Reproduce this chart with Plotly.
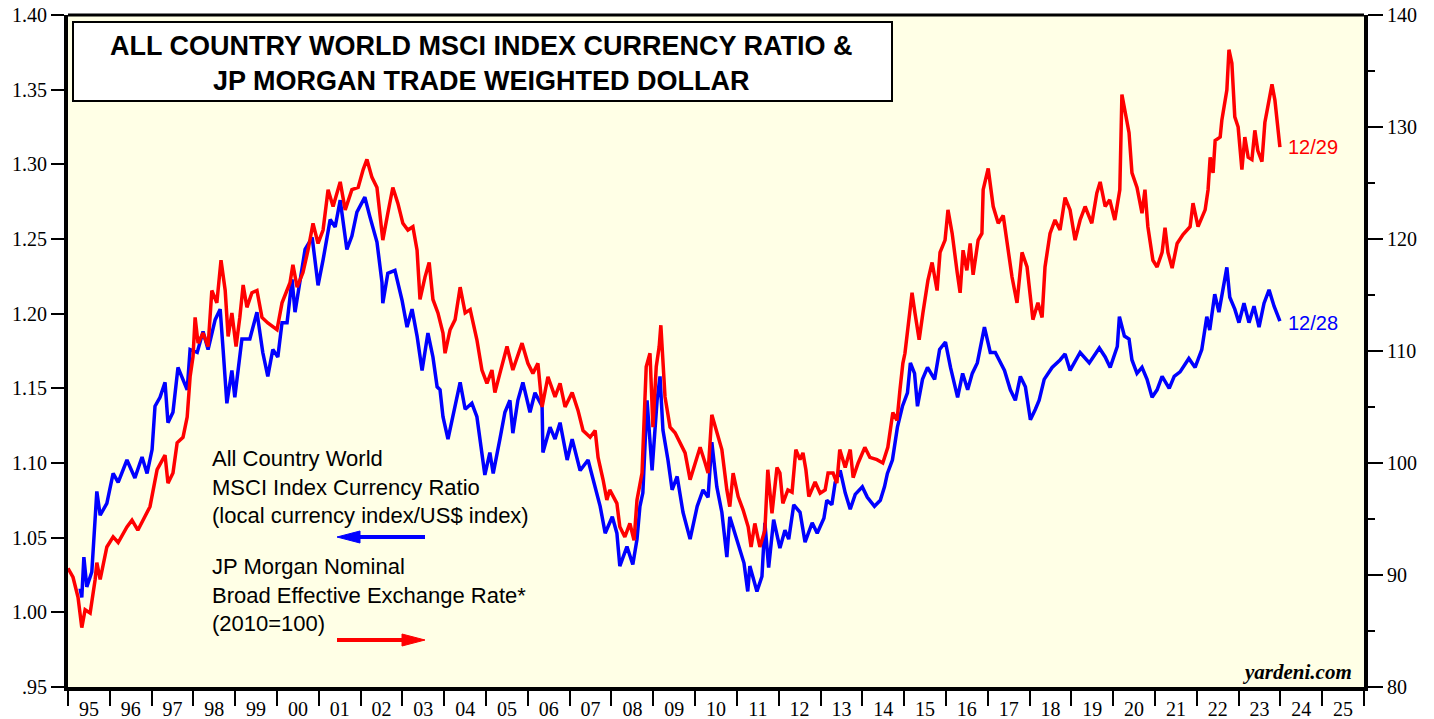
import plotly.graph_objects as go
from datetime import datetime

# ---- Data (decimal year, value) ----
# All Country World MSCI Index Currency Ratio (left axis)
ACWI_RATIO = [
    (1995.29, 1.016), (1995.33, 1.010), (1995.38, 1.037), (1995.45, 1.017), (1995.57, 1.027),
    (1995.65, 1.067), (1995.69, 1.081), (1995.77, 1.065), (1995.93, 1.073), (1996.08, 1.093),
    (1996.20, 1.087), (1996.41, 1.102), (1996.60, 1.090), (1996.77, 1.104), (1996.89, 1.093),
    (1997.01, 1.109), (1997.08, 1.138), (1997.20, 1.144), (1997.32, 1.154), (1997.39, 1.127),
    (1997.51, 1.134), (1997.63, 1.164), (1997.85, 1.149), (1997.92, 1.176), (1998.09, 1.174),
    (1998.23, 1.188), (1998.35, 1.176), (1998.52, 1.196), (1998.64, 1.203), (1998.71, 1.176),
    (1998.80, 1.140), (1998.92, 1.162), (1998.99, 1.144), (1999.16, 1.183), (1999.35, 1.183),
    (1999.52, 1.201), (1999.66, 1.174), (1999.78, 1.158), (1999.90, 1.176), (2000.02, 1.171),
    (2000.12, 1.194), (2000.24, 1.194), (2000.36, 1.223), (2000.43, 1.201), (2000.55, 1.221),
    (2000.67, 1.243), (2000.84, 1.251), (2000.98, 1.219), (2001.10, 1.236), (2001.27, 1.263),
    (2001.39, 1.258), (2001.51, 1.276), (2001.67, 1.243), (2001.79, 1.252), (2001.91, 1.268),
    (2002.10, 1.278), (2002.22, 1.265), (2002.39, 1.248), (2002.51, 1.221), (2002.53, 1.207),
    (2002.65, 1.227), (2002.82, 1.229), (2002.99, 1.209), (2003.11, 1.191), (2003.23, 1.203),
    (2003.35, 1.185), (2003.47, 1.162), (2003.61, 1.187), (2003.73, 1.171), (2003.83, 1.151),
    (2003.90, 1.149), (2003.97, 1.131), (2004.09, 1.116), (2004.21, 1.131), (2004.38, 1.154),
    (2004.50, 1.136), (2004.66, 1.140), (2004.78, 1.131), (2004.90, 1.104), (2004.97, 1.092),
    (2005.09, 1.107), (2005.17, 1.093), (2005.33, 1.116), (2005.45, 1.134), (2005.57, 1.142),
    (2005.64, 1.120), (2005.76, 1.142), (2005.88, 1.154), (2006.05, 1.134), (2006.17, 1.147),
    (2006.34, 1.138), (2006.36, 1.107), (2006.53, 1.124), (2006.65, 1.116), (2006.77, 1.127),
    (2006.94, 1.102), (2007.06, 1.116), (2007.25, 1.095), (2007.44, 1.102), (2007.61, 1.084),
    (2007.73, 1.071), (2007.85, 1.053), (2008.02, 1.064), (2008.13, 1.053), (2008.20, 1.031),
    (2008.37, 1.044), (2008.51, 1.032), (2008.61, 1.049), (2008.68, 1.071), (2008.75, 1.080),
    (2008.85, 1.142), (2008.97, 1.095), (2009.09, 1.142), (2009.16, 1.158), (2009.23, 1.122),
    (2009.35, 1.102), (2009.45, 1.082), (2009.57, 1.091), (2009.71, 1.067), (2009.88, 1.049),
    (2010.05, 1.071), (2010.19, 1.082), (2010.31, 1.077), (2010.40, 1.114), (2010.52, 1.084),
    (2010.64, 1.067), (2010.76, 1.037), (2010.83, 1.064), (2011.00, 1.049), (2011.17, 1.033),
    (2011.26, 1.014), (2011.31, 1.031), (2011.48, 1.014), (2011.60, 1.024), (2011.67, 1.060),
    (2011.76, 1.030), (2011.88, 1.062), (2012.03, 1.043), (2012.15, 1.055), (2012.24, 1.049),
    (2012.36, 1.072), (2012.51, 1.067), (2012.63, 1.047), (2012.80, 1.060), (2012.92, 1.053),
    (2013.08, 1.063), (2013.15, 1.075), (2013.27, 1.072), (2013.35, 1.087), (2013.47, 1.095),
    (2013.59, 1.080), (2013.71, 1.069), (2013.83, 1.079), (2014.00, 1.084), (2014.12, 1.077),
    (2014.29, 1.071), (2014.43, 1.075), (2014.53, 1.084), (2014.60, 1.093), (2014.72, 1.102),
    (2014.84, 1.124), (2014.96, 1.138), (2015.08, 1.147), (2015.15, 1.167), (2015.25, 1.160),
    (2015.32, 1.138), (2015.44, 1.156), (2015.56, 1.164), (2015.73, 1.156), (2015.85, 1.176),
    (2015.99, 1.181), (2016.11, 1.164), (2016.28, 1.144), (2016.40, 1.160), (2016.52, 1.149),
    (2016.63, 1.160), (2016.75, 1.167), (2016.92, 1.191), (2017.06, 1.174), (2017.18, 1.174),
    (2017.40, 1.162), (2017.54, 1.149), (2017.66, 1.142), (2017.78, 1.158), (2017.90, 1.151),
    (2018.02, 1.129), (2018.14, 1.136), (2018.23, 1.142), (2018.35, 1.156), (2018.54, 1.164),
    (2018.73, 1.169), (2018.85, 1.173), (2018.97, 1.162), (2019.21, 1.174), (2019.43, 1.167),
    (2019.67, 1.177), (2019.81, 1.171), (2019.93, 1.164), (2020.10, 1.178), (2020.15, 1.198),
    (2020.27, 1.185), (2020.38, 1.183), (2020.45, 1.169), (2020.57, 1.160), (2020.69, 1.164),
    (2020.81, 1.156), (2020.93, 1.144), (2021.05, 1.149), (2021.17, 1.158), (2021.34, 1.150),
    (2021.46, 1.158), (2021.60, 1.161), (2021.81, 1.170), (2021.96, 1.164), (2022.12, 1.176),
    (2022.24, 1.198), (2022.31, 1.189), (2022.43, 1.213), (2022.53, 1.201), (2022.65, 1.221),
    (2022.72, 1.231), (2022.79, 1.211), (2022.91, 1.203), (2023.01, 1.194), (2023.13, 1.207),
    (2023.25, 1.194), (2023.37, 1.205), (2023.49, 1.191), (2023.61, 1.207), (2023.73, 1.216),
    (2023.85, 1.205), (2023.99, 1.195),
]

# JP Morgan Nominal Broad Effective Exchange Rate, 2010=100 (right axis)
JPM_DOLLAR = [
    (1995.00, 90.6), (1995.12, 89.8), (1995.24, 88.0), (1995.33, 85.3), (1995.41, 86.9),
    (1995.53, 86.6), (1995.65, 89.6), (1995.69, 91.1), (1995.77, 89.6), (1995.93, 92.5),
    (1996.08, 93.4), (1996.20, 92.9), (1996.41, 94.3), (1996.53, 94.9), (1996.67, 94.0),
    (1996.84, 95.2), (1996.96, 96.1), (1997.13, 99.4), (1997.32, 100.7), (1997.39, 98.2),
    (1997.51, 99.1), (1997.61, 101.8), (1997.75, 102.3), (1997.85, 104.1), (1997.92, 107.7),
    (1997.99, 109.5), (1998.04, 113.0), (1998.11, 110.7), (1998.23, 111.6), (1998.35, 110.4),
    (1998.44, 115.4), (1998.56, 114.3), (1998.66, 118.1), (1998.76, 115.4), (1998.83, 111.3),
    (1998.92, 113.4), (1999.02, 110.4), (1999.11, 113.0), (1999.19, 115.9), (1999.28, 113.9),
    (1999.40, 115.2), (1999.52, 115.4), (1999.64, 113.0), (1999.78, 112.5), (2000.00, 111.9),
    (2000.12, 114.3), (2000.31, 116.1), (2000.38, 117.7), (2000.48, 115.7), (2000.62, 117.0),
    (2000.74, 119.0), (2000.86, 121.4), (2000.98, 119.6), (2001.10, 120.8), (2001.22, 124.4),
    (2001.34, 122.9), (2001.51, 125.1), (2001.63, 122.6), (2001.79, 124.4), (2001.94, 124.6),
    (2002.06, 126.2), (2002.15, 127.1), (2002.27, 125.5), (2002.39, 124.6), (2002.46, 122.3),
    (2002.53, 119.9), (2002.65, 122.3), (2002.77, 124.6), (2002.89, 123.2), (2003.01, 121.4),
    (2003.13, 120.8), (2003.25, 121.1), (2003.35, 119.0), (2003.42, 114.6), (2003.54, 116.6),
    (2003.64, 117.9), (2003.73, 114.6), (2003.85, 113.4), (2003.97, 111.6), (2004.02, 109.8),
    (2004.14, 111.9), (2004.26, 112.8), (2004.38, 115.7), (2004.50, 113.4), (2004.62, 113.7),
    (2004.78, 111.0), (2004.90, 108.3), (2005.02, 107.1), (2005.14, 108.3), (2005.21, 106.3),
    (2005.33, 108.0), (2005.50, 110.4), (2005.64, 108.3), (2005.86, 110.7), (2006.00, 108.9),
    (2006.12, 108.0), (2006.24, 108.9), (2006.34, 105.0), (2006.48, 107.7), (2006.65, 105.9),
    (2006.77, 107.1), (2006.89, 105.0), (2007.06, 106.3), (2007.20, 104.7), (2007.32, 102.9),
    (2007.49, 102.3), (2007.61, 102.9), (2007.68, 100.5), (2007.80, 98.5), (2007.89, 96.7),
    (2007.96, 97.6), (2008.13, 96.4), (2008.20, 94.3), (2008.32, 93.4), (2008.44, 94.6),
    (2008.54, 93.1), (2008.61, 96.7), (2008.73, 99.1), (2008.83, 108.6), (2008.92, 109.8),
    (2008.99, 103.2), (2009.07, 108.6), (2009.14, 110.4), (2009.18, 112.3), (2009.28, 105.9),
    (2009.40, 103.2), (2009.52, 102.7), (2009.64, 101.8), (2009.76, 100.9), (2009.88, 98.5),
    (2010.00, 100.0), (2010.12, 101.4), (2010.24, 100.0), (2010.31, 99.1), (2010.40, 104.3),
    (2010.52, 102.7), (2010.64, 101.2), (2010.76, 97.6), (2010.83, 96.1), (2010.91, 99.1),
    (2011.03, 97.0), (2011.15, 95.8), (2011.27, 94.3), (2011.34, 92.5), (2011.43, 94.6),
    (2011.55, 92.5), (2011.67, 94.0), (2011.74, 99.4), (2011.84, 95.5), (2011.96, 99.6),
    (2012.03, 99.1), (2012.10, 96.4), (2012.22, 97.6), (2012.32, 97.4), (2012.41, 101.2),
    (2012.51, 100.3), (2012.58, 100.9), (2012.65, 99.4), (2012.72, 97.0), (2012.87, 98.3),
    (2012.99, 97.3), (2013.11, 97.6), (2013.18, 99.1), (2013.30, 99.1), (2013.39, 98.2),
    (2013.46, 101.2), (2013.59, 99.6), (2013.71, 101.2), (2013.78, 98.7), (2013.90, 100.0),
    (2014.06, 101.4), (2014.18, 100.5), (2014.35, 100.3), (2014.49, 100.0), (2014.61, 101.4),
    (2014.73, 104.5), (2014.83, 103.8), (2014.90, 106.5), (2014.97, 108.9), (2015.02, 109.8),
    (2015.09, 112.1), (2015.19, 115.2), (2015.26, 113.4), (2015.36, 111.0), (2015.45, 113.4),
    (2015.57, 116.3), (2015.67, 117.9), (2015.79, 115.4), (2015.86, 118.8), (2015.98, 119.9),
    (2016.05, 122.6), (2016.15, 120.5), (2016.27, 117.0), (2016.34, 115.2), (2016.41, 119.0),
    (2016.50, 117.2), (2016.58, 119.6), (2016.65, 116.8), (2016.77, 119.9), (2016.86, 120.5),
    (2016.89, 124.4), (2017.01, 126.3), (2017.13, 122.9), (2017.25, 121.4), (2017.37, 122.1),
    (2017.46, 119.6), (2017.58, 116.6), (2017.70, 114.3), (2017.82, 118.8), (2017.94, 117.5),
    (2018.01, 115.4), (2018.08, 112.8), (2018.20, 114.3), (2018.30, 113.0), (2018.37, 117.5),
    (2018.49, 120.5), (2018.61, 121.7), (2018.73, 120.8), (2018.85, 123.7), (2018.97, 122.6),
    (2019.09, 119.9), (2019.21, 121.7), (2019.33, 122.9), (2019.49, 121.4), (2019.61, 124.1),
    (2019.69, 125.1), (2019.81, 122.9), (2019.92, 123.5), (2020.04, 121.7), (2020.16, 124.4),
    (2020.21, 132.9), (2020.31, 130.9), (2020.38, 129.5), (2020.45, 125.9), (2020.57, 124.6),
    (2020.69, 122.3), (2020.76, 124.4), (2020.83, 121.1), (2020.95, 118.1), (2021.05, 117.5),
    (2021.17, 118.8), (2021.24, 121.0), (2021.31, 118.8), (2021.41, 117.4), (2021.53, 119.6),
    (2021.67, 120.4), (2021.84, 121.1), (2021.91, 123.2), (2022.03, 121.1), (2022.20, 122.6),
    (2022.27, 124.4), (2022.32, 127.3), (2022.39, 125.9), (2022.44, 128.8), (2022.56, 129.1),
    (2022.60, 130.6), (2022.65, 131.8), (2022.72, 133.3), (2022.77, 136.9), (2022.84, 135.7),
    (2022.91, 130.9), (2022.99, 130.0), (2023.08, 126.2), (2023.15, 129.1), (2023.23, 127.3),
    (2023.32, 127.1), (2023.39, 129.7), (2023.46, 127.9), (2023.56, 126.9), (2023.63, 130.4),
    (2023.70, 131.8), (2023.80, 133.8), (2023.87, 132.4), (2023.93, 130.6), (2023.99, 128.2),
]

LEFT_TICKS = [0.95, 1.00, 1.05, 1.10, 1.15, 1.20, 1.25, 1.30, 1.35, 1.40]
LEFT_LABELS = [".95", "1.00", "1.05", "1.10", "1.15", "1.20", "1.25", "1.30", "1.35", "1.40"]

TITLE_LINES = ["ALL COUNTRY WORLD MSCI INDEX CURRENCY RATIO &", "JP MORGAN TRADE WEIGHTED DOLLAR"]
BLUE_LEGEND = ["All Country World", "MSCI Index Currency Ratio", "(local currency index/US$ index)"]
RED_LEGEND = ["JP Morgan Nominal", "Broad Effective Exchange Rate*", "(2010=100)"]
BLUE_END_LABEL = "12/28"
RED_END_LABEL = "12/29"


def to_date(t):
    y = int(t)
    start = datetime(y, 1, 1)
    end = datetime(y + 1, 1, 1)
    return start + (end - start) * (t - y)


# ---- pixel -> paper helpers for layout decorations ----
W, H = 1434, 719
L, R, T, B = 68, 1364, 15, 687


def px(x):
    return (x - L) / (R - L)


def py(y):
    return (B - y) / (B - T)


bx = [to_date(t) for t, _ in ACWI_RATIO]
bv = [v for _, v in ACWI_RATIO]
rx = [to_date(t) for t, _ in JPM_DOLLAR]
rv = [v for _, v in JPM_DOLLAR]

BLUE = "#0000FF"
RED = "#FF0000"
SERIF = "Liberation Serif"
SANS = "Liberation Sans"

fig = go.Figure()
fig.add_trace(go.Scatter(x=bx, y=bv, mode="lines", line=dict(color=BLUE, width=3.5), yaxis="y",
                         hoverinfo="skip"))
fig.add_trace(go.Scatter(x=rx, y=rv, mode="lines", line=dict(color=RED, width=3.5), yaxis="y2",
                         hoverinfo="skip"))

tickfont = dict(family=SERIF, size=20, color="black")

fig.update_layout(
    width=W, height=H,
    margin=dict(l=L, r=W - R, t=T, b=H - B, pad=0, autoexpand=False),
    paper_bgcolor="white",
    plot_bgcolor="#FFFFE6",
    showlegend=False,
    xaxis=dict(
        type="date", range=["1995-01-01", "2026-01-01"], automargin=False,
        tick0="1995-01-01", dtick="M12", tickformat="%y", ticklabelmode="period",
        ticks="outside", ticklen=15, tickwidth=2, tickcolor="black", ticklabelstandoff=-14,
        showline=True, linewidth=4, linecolor="black",
        showgrid=False, zeroline=False, tickfont=tickfont,
    ),
    yaxis=dict(
        range=[0.95, 1.40], tickmode="array", tickvals=LEFT_TICKS, ticktext=LEFT_LABELS,
        automargin=False,
        ticks="outside", ticklen=13, tickwidth=2, tickcolor="black",
        showline=True, linewidth=4, linecolor="black",
        showgrid=False, zeroline=False, tickfont=tickfont,
    ),
    yaxis2=dict(
        range=[80, 140], overlaying="y", side="right", tick0=80, dtick=10, automargin=False,
        ticks="outside", ticklen=15, tickwidth=2, tickcolor="black",
        minor=dict(dtick=5, tick0=80, ticks="outside", ticklen=7, tickwidth=2, tickcolor="black"),
        showline=True, linewidth=4, linecolor="black",
        showgrid=False, zeroline=False, tickfont=tickfont,
    ),
)

shapes = []
# top frame line
shapes.append(dict(type="line", xref="paper", yref="paper", x0=0, x1=1, y0=1, y1=1,
                   line=dict(color="black", width=3)))
# title box
shapes.append(dict(type="rect", xref="paper", yref="paper", x0=px(73), x1=px(892),
                   y0=py(101), y1=py(22), fillcolor="white", line=dict(color="black", width=2),
                   layer="above"))


def arrow(x_tip, x_tail, y, color):
    d = 1 if x_tail > x_tip else -1
    base = x_tip + d * 23
    out = [dict(type="line", xref="paper", yref="paper", x0=px(base), x1=px(x_tail),
                y0=py(y), y1=py(y), line=dict(color=color, width=4))]
    path = "M {} {} L {} {} L {} {} Z".format(px(x_tip), py(y), px(base), py(y - 6),
                                             px(base), py(y + 6))
    out.append(dict(type="path", xref="paper", yref="paper", path=path, fillcolor=color,
                    line=dict(color=color, width=1)))
    return out


shapes += arrow(337, 425, 537, BLUE)
shapes += arrow(425, 337, 640, RED)
fig.update_layout(shapes=shapes)

ann = []
ann.append(dict(xref="paper", yref="paper", x=px(482), y=py(63.5),
                text="<br>".join("<b>%s</b>" % s for s in TITLE_LINES),
                showarrow=False, xanchor="center", yanchor="middle", align="center", borderpad=0,
                font=dict(family=SANS, size=27, color="black")))
ann.append(dict(xref="paper", yref="paper", x=px(211), y=py(487), text="<br>".join(BLUE_LEGEND),
                showarrow=False, xanchor="left", yanchor="middle", align="left", borderpad=0,
                font=dict(family=SANS, size=22, color="black")))
ann.append(dict(xref="paper", yref="paper", x=px(211), y=py(595), text="<br>".join(RED_LEGEND),
                showarrow=False, xanchor="left", yanchor="middle", align="left", borderpad=0,
                font=dict(family=SANS, size=22, color="black")))
ann.append(dict(xref="paper", yref="paper", x=px(1286), y=py(147), text=RED_END_LABEL,
                showarrow=False, xanchor="left", yanchor="middle",
                font=dict(family=SANS, size=20, color=RED)))
ann.append(dict(xref="paper", yref="paper", x=px(1286), y=py(323), text=BLUE_END_LABEL,
                showarrow=False, xanchor="left", yanchor="middle",
                font=dict(family=SANS, size=20, color=BLUE)))
ann.append(dict(xref="paper", yref="paper", x=px(1354), y=py(672), text="<b><i>yardeni.com</i></b>",
                showarrow=False, xanchor="right", yanchor="middle",
                font=dict(family=SERIF, size=21, color="black")))
fig.update_layout(annotations=ann)

fig.write_html("out.html", config={"displayModeBar": False},
               post_script="document.body.style.margin='0';document.body.style.overflow='hidden';")
